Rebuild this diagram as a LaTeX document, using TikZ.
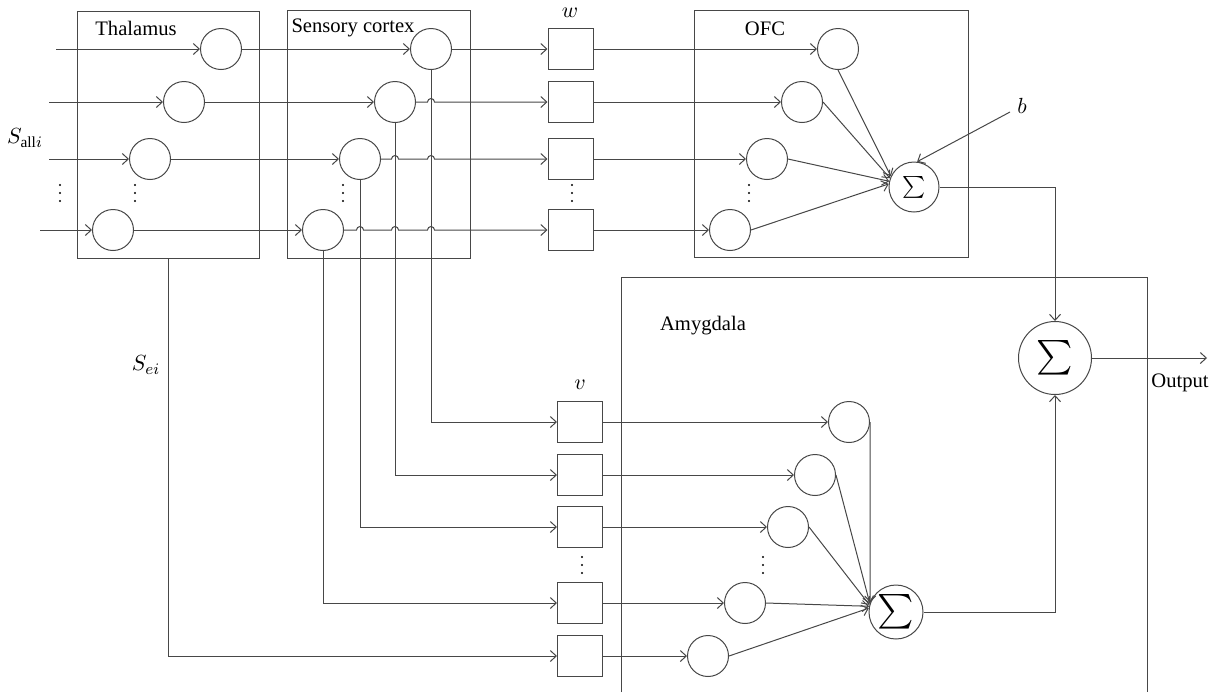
\documentclass[tikz,border=0pt]{standalone}
\usepackage{amsmath}
\usepackage{fontspec}
\setmainfont{Liberation Serif}
\usetikzlibrary{arrows.meta,calc}
\tikzset{vdotz/.pic={\fill (0,-8) circle (0.6pt) (0,0) circle (0.6pt) (0,8) circle (0.6pt);}}
\begin{document}
\begin{tikzpicture}[x=0.5pt,y=-0.5pt,line width=0.5pt,color=black!72,text=black,
  >={Straight Barb[length=3pt,width=5.5pt]},
  neuron/.style={circle,draw,minimum size=20.5pt,inner sep=0pt},
  weight/.style={rectangle,draw,minimum width=22.5pt,minimum height=20.5pt,inner sep=0pt},
  region/.style={rectangle,draw,inner sep=0pt},
  sumnode/.style={circle,draw,inner sep=0pt},
  lbl/.style={font=\fontsize{10.3}{12}\selectfont,inner sep=0pt},
  mlbl/.style={font=\fontsize{11}{13}\selectfont,inner sep=0pt}]
\useasboundingbox (0,0) rectangle (1221,692);

%thalamus
\node[region,minimum width=91pt,minimum height=123.5pt] (thal) at (168,134.5) {};
\node[lbl] at (136,28) {Thalamus};
\node[neuron] (T1) at (221,49) {};
\node[neuron] (T2) at (184,102) {};
\node[neuron] (T3) at (150,159) {};
\node[neuron] (T4) at (113,230) {};
\coordinate (I1) at (56,49);
\coordinate (I2) at (49,102);
\coordinate (I3) at (49,159);
\coordinate (I4) at (40,230);
\node[mlbl] at (25,138) {$S_{\mathrm{all}i}$};
\pic[black] at (60,193) {vdotz};
\pic[black] at (135,193) {vdotz};

%sensory cortex
\node[region,minimum width=91.5pt,minimum height=124pt] (sens) at (378.5,134) {};
\node[lbl] at (353,28) {Sensory cortex};
\node[neuron] (C1) at (431,49) {};
\node[neuron] (C2) at (395,102) {};
\node[neuron] (C3) at (360,159) {};
\node[neuron] (C4) at (323,230) {};
\pic[black] at (343,193) {vdotz};

%weights w
\node[weight] (W1) at (570.5,49) {};
\node[weight] (W2) at (570.5,102) {};
\node[weight] (W3) at (570.5,159) {};
\node[weight] (W4) at (570.5,230) {};
\node[mlbl] at (570,13) {$w$};
\pic[black] at (572,193) {vdotz};

%OFC
\node[region,minimum width=137pt,minimum height=123.5pt] (ofc) at (831,133.5) {};
\node[lbl] at (765,29) {OFC};
\node[neuron] (O1) at (838,49) {};
\node[neuron] (O2) at (802,102) {};
\node[neuron] (O3) at (767,159) {};
\node[neuron] (O4) at (730,230) {};
\pic[black] at (749,193) {vdotz};
\node[sumnode,minimum size=25pt,font=\fontsize{11}{13}\selectfont] (SO) at (914,187) {$\sum$};
\coordinate (B) at (1010,112);
\node[mlbl] at (1022,106) {$b$};

%amygdala
\draw (621,692) -- (621,277) -- (1147,277) -- (1147,692);
\node[lbl] at (703,326) {Amygdala};
\node[weight] (V1) at (580,422) {};
\node[weight] (V2) at (580,475) {};
\node[weight] (V3) at (580,527) {};
\node[weight] (V4) at (580,603) {};
\node[weight] (V5) at (580,656) {};
\node[mlbl] at (580,385) {$v$};
\pic[black] at (582,565) {vdotz};
\node[neuron] (A1) at (849,422) {};
\node[neuron] (A2) at (815,475) {};
\node[neuron] (A3) at (788,527) {};
\node[neuron] (A4) at (745,603) {};
\node[neuron] (A5) at (708,656) {};
\pic[black] at (763,565) {vdotz};
\node[sumnode,minimum size=27pt,font=\fontsize{16}{18}\selectfont] (SA) at (896,612) {$\sum$};

%output
\node[sumnode,minimum size=36.5pt,font=\fontsize{18}{20}\selectfont] (S) at (1055,358) {$\sum$};
\coordinate (out) at (1207,358);
\node[lbl] at (1180,383) {Output};

%inputs
\draw[->] (I1) -- (T1);
\draw[->] (I2) -- (T2);
\draw[->] (I3) -- (T3);
\draw[->] (I4) -- (T4);
\draw[->] (T1) -- (C1);
\draw[->] (T2) -- (C2);
\draw[->] (T3) -- (C3);
\draw[->] (T4) -- (C4);

%cortex to w, with hops
\draw[->] (C1) -- (W1);
\draw[->] (C2.east) -- ($(C1.south |- C2)+(-3.5,0)$) arc[start angle=180,end angle=0,radius=1.75pt] -- (W2.west);
\draw[->] (C3.east) -- ($(C2.south |- C3)+(-3.5,0)$) arc[start angle=180,end angle=0,radius=1.75pt]
  -- ($(C1.south |- C3)+(-3.5,0)$) arc[start angle=180,end angle=0,radius=1.75pt] -- (W3.west);
\draw[->] (C4.east) -- ($(C3.south |- C4)+(-3.5,0)$) arc[start angle=180,end angle=0,radius=1.75pt]
  -- ($(C2.south |- C4)+(-3.5,0)$) arc[start angle=180,end angle=0,radius=1.75pt]
  -- ($(C1.south |- C4)+(-3.5,0)$) arc[start angle=180,end angle=0,radius=1.75pt] -- (W4.west);

%cortex to v
\draw[->] (C1.south) |- (V1.west);
\draw[->] (C2.south) |- (V2.west);
\draw[->] (C3.south) |- (V3.west);
\draw[->] (C4.south) |- (V4.west);
\draw[->] (thal.south) |- (V5.west);
\node[mlbl] at (146,365) {$S_{ei}$};

%w to OFC
\draw[->] (W1) -- (O1);
\draw[->] (W2) -- (O2);
\draw[->] (W3) -- (O3);
\draw[->] (W4) -- (O4);
\draw[->] (O1.south) -- (SO.155);
\draw[->] (O2.east) -- (SO.160);
\draw[->] (O3.east) -- (SO.167);
\draw[->] (O4.east) -- (SO.173);
\draw[->] (B) -- (SO.83);

%v to amygdala
\draw[->] (V1) -- (A1);
\draw[->] (V2) -- (A2);
\draw[->] (V3) -- (A3);
\draw[->] (V4) -- (A4);
\draw[->] (V5) -- (A5);
\draw[->] (A1.east) -- (SA.160);
\draw[->] (A2.east) -- (SA.162);
\draw[->] (A3.east) -- (SA.165);
\draw[->] (A4.east) -- (SA.168);
\draw[->] (A5.east) -- (SA.172);

%sums
\draw[->] (SO.east) -| (S.north);
\draw[->] (SA.east) -| (S.south);
\draw[->] (S.east) -- (out);
\end{tikzpicture}
\end{document}
